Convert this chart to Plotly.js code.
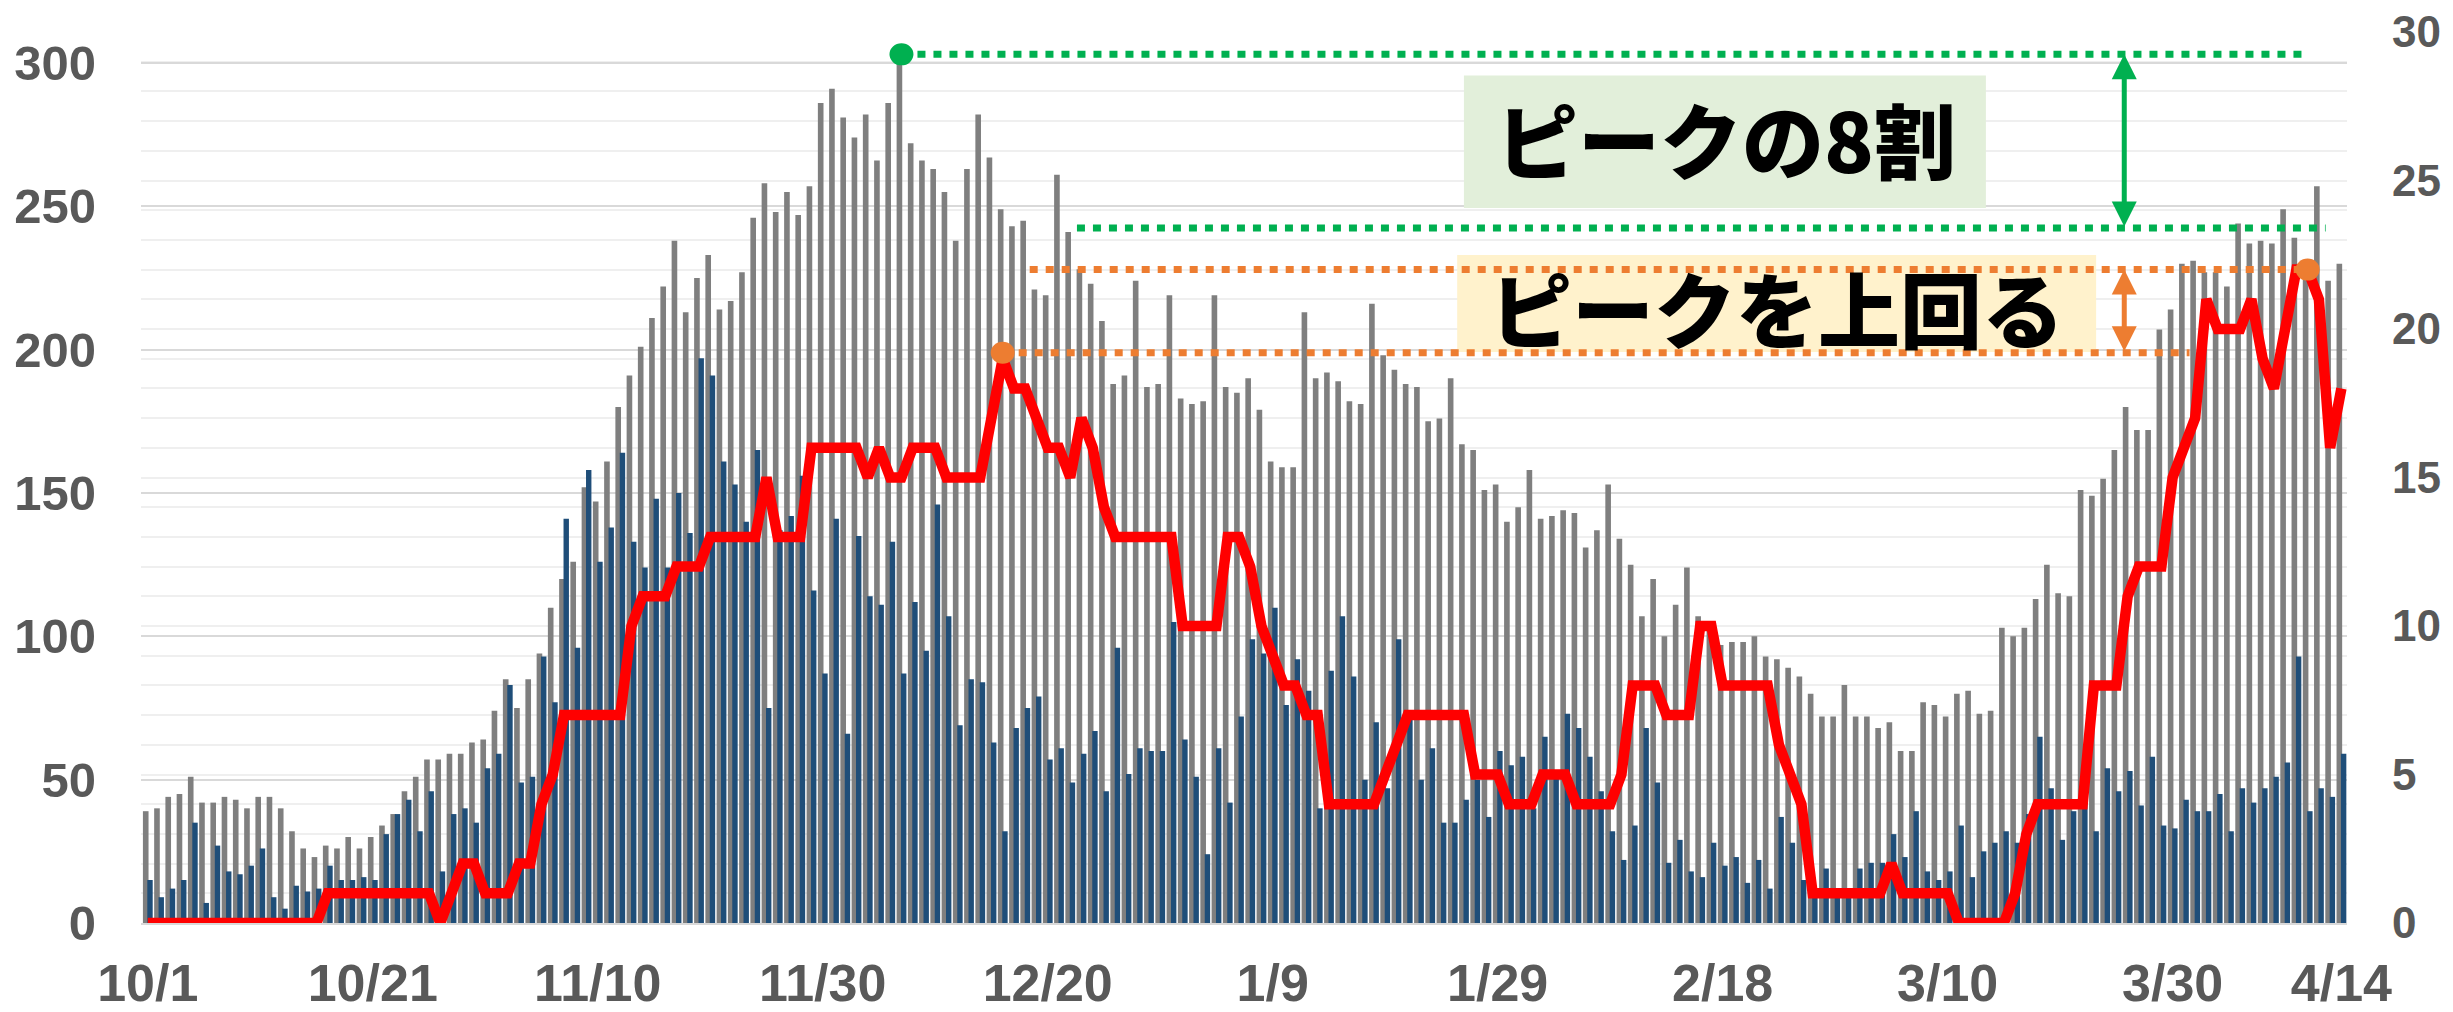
<!DOCTYPE html>
<html>
<head>
<meta charset="utf-8">
<script src="https://cdn.plot.ly/plotly-3.0.1.min.js"></script>
<style>
  html, body { margin: 0; padding: 0; background: #ffffff; }
  #chart { width: 2453px; height: 1012px; }
</style>
</head>
<body>
<div id="chart"></div>
<script>
// ---- data ----
const startYear = 2020, startMonth = 10, startDay = 1;   // 10/1 .. 4/14

const tickLabels = ['10/1', '10/21', '11/10', '11/30', '12/20', '1/9', '1/29', '2/18', '3/10', '3/30', '4/14'];

// gray bars (left axis)
const grayValues = [
  39, 40, 44, 45, 51, 42, 42, 44, 43, 40, 44, 44, 40, 32, 26, 23, 27, 26, 30, 26, 30, 34,
  38, 46, 51, 57, 57, 59, 59, 63, 64, 74, 85, 75, 85, 94, 110, 120, 126, 152, 147, 161, 180, 191,
  201, 211, 222, 238, 213, 225, 233, 214, 217, 227, 246, 258, 248, 255, 247, 257, 286, 291, 281, 274, 282, 266,
  286, 303, 272, 266, 263, 255, 238, 263, 282, 267, 249, 243, 245, 221, 219, 261, 241, 228, 223, 210, 188, 191,
  224, 187, 188, 219, 183, 181, 182, 219, 187, 185, 190, 179, 161, 159, 159, 213, 190, 192, 189, 182, 181,
  216, 198, 193, 188, 187, 175, 176, 190, 167, 165, 151, 153, 140, 145, 158, 141, 142, 144, 143, 131, 137, 153,
  134, 125, 107, 120, 100, 111, 124, 107, 102, 97, 98, 98, 100, 93, 92, 89, 86, 80, 72, 72, 83, 72,
  72, 68, 70, 60, 60, 77, 76, 72, 80, 81, 73, 74, 103, 100, 103, 113, 125, 115, 114, 151, 149, 155,
  165, 180, 172, 172, 207, 214, 230, 231, 227, 227, 222, 244, 237, 238, 237, 249, 239, 228, 257, 224, 230
];

// dark blue bars (left axis)
const blueValues = [
  15, 9, 12, 15, 35, 7, 27, 18, 17, 20, 26, 9, 5, 13, 11, 12, 20, 15, 15, 16, 15, 31,
  38, 43, 32, 46, 18, 38, 40, 35, 54, 59, 83, 49, 51, 93, 77, 141, 96, 158, 126, 138, 164, 133,
  124, 148, 124, 150, 136, 197, 191, 161, 153, 140, 165, 75, 137, 142, 156, 116, 87, 141, 66, 135, 114, 111,
  133, 87, 112, 95, 146, 107, 69, 85, 84, 63, 32, 68, 75, 79, 57, 61, 49, 59, 67, 46, 96, 52,
  61, 60, 60, 105, 64, 51, 24, 61, 42, 72, 99, 94, 110, 76, 92, 81, 40, 88, 107, 86, 50,
  70, 47, 99, 74, 50, 61, 35, 35, 43, 50, 37, 60, 55, 58, 40, 65, 52, 73, 68, 58, 46, 32,
  22, 34, 68, 49, 21, 29, 18, 16, 28, 20, 23, 14, 22, 12, 37, 28, 15, 10, 19, 10, 10, 19,
  21, 21, 31, 23, 39, 18, 15, 18, 34, 16, 25, 28, 32, 28, 38, 65, 47, 29, 39, 42, 32, 54,
  46, 53, 41, 58, 34, 33, 43, 39, 39, 45, 32, 47, 42, 47, 51, 56, 93, 39, 47, 44, 59
];

// red line (right axis)
const redValues = [
  0, 0, 0, 0, 0, 0, 0, 0, 0, 0, 0, 0, 0, 0, 0, 0, 1, 1, 1, 1, 1, 1,
  1, 1, 1, 1, 0, 1, 2, 2, 1, 1, 1, 2, 2, 4, 5, 7, 7, 7, 7, 7, 7, 10,
  11, 11, 11, 12, 12, 12, 13, 13, 13, 13, 13, 15, 13, 13, 13, 16, 16, 16, 16, 16, 15, 16,
  15, 15, 16, 16, 16, 15, 15, 15, 15, 17, 19, 18, 18, 17, 16, 16, 15, 17, 16, 14, 13, 13,
  13, 13, 13, 13, 10, 10, 10, 10, 13, 13, 12, 10, 9, 8, 8, 7, 7, 4, 4, 4, 4,
  4, 5, 6, 7, 7, 7, 7, 7, 7, 5, 5, 5, 4, 4, 4, 5, 5, 5, 4, 4, 4, 4,
  5, 8, 8, 8, 7, 7, 7, 10, 10, 8, 8, 8, 8, 8, 6, 5, 4, 1, 1, 1, 1, 1,
  1, 1, 2, 1, 1, 1, 1, 1, 0, 0, 0, 0, 0, 1, 3, 4, 4, 4, 4, 4, 8, 8,
  8, 11, 12, 12, 12, 15, 16, 17, 21, 20, 20, 20, 21, 19, 18, 20, 22, 22, 21, 16, 18
];

// annotation texts
const labelEighty = 'ピークの8割';
const labelAbove = 'ピークを上回る';
const peakRatio = 0.8;

// ---- build categories ----
const categories = grayValues.map((_, i) => {
  const d = new Date(startYear, startMonth - 1, startDay + i);
  return (d.getMonth() + 1) + '/' + d.getDate();
});

const peakValue = Math.max(...grayValues);
const peakIdx = grayValues.indexOf(peakValue);
const eightyLevel = peakValue * peakRatio;
const firstRedPeakIdx = 76;          // red peak in December
const firstRedPeakLevel = 19.2;
const secondRedIdx = 192;            // red peak in April
const secondRedLevel = redValues[secondRedIdx];

const tickFamily = 'Liberation Sans, Arial, sans-serif';
const jpFamily = 'Noto Sans CJK JP, Noto Sans, sans-serif';
const GREEN = '#00b050', ORANGE = '#ed7d31';

const traces = [
  {
    type: 'bar', x: categories, y: grayValues, yaxis: 'y',
    marker: { color: '#7f7f7f', line: { width: 0 } },
    width: 0.5, offset: -0.43, hoverinfo: 'skip'
  },
  {
    type: 'bar', x: categories, y: blueValues, yaxis: 'y',
    marker: { color: '#1f4e79', line: { width: 0 } },
    width: 0.48, offset: -0.04, hoverinfo: 'skip'
  },
  {
    type: 'scatter', mode: 'lines', x: categories, y: redValues, yaxis: 'y2',
    line: { color: '#ff0000', width: 10.5 }, hoverinfo: 'skip'
  }
];

const dotLine = (color) => ({ color: color, width: 7, dash: '8px,8px' });
const dot = (xa, ya, yref, color) => ({
  type: 'circle', xref: 'x', yref: yref, xsizemode: 'pixel', ysizemode: 'pixel',
  xanchor: xa, yanchor: ya, x0: -12, x1: 12, y0: -11, y1: 11,
  fillcolor: color, line: { width: 0 }, layer: 'above'
});

const shapes = [
  { type: 'rect', xref: 'x', yref: 'y', x0: 117.0, x1: 163.4, y0: 249.4, y1: 295.6,
    fillcolor: '#e2efda', line: { width: 0 }, layer: 'above' },
  { type: 'rect', xref: 'x', yref: 'y', x0: 116.4, x1: 173.2, y0: 199.2, y1: 233.0,
    fillcolor: '#fff2cc', line: { width: 0 }, layer: 'above' },
  { type: 'line', xref: 'x', yref: 'y', x0: peakIdx, x1: 191.8, y0: peakValue, y1: peakValue,
    line: dotLine(GREEN), layer: 'above' },
  { type: 'line', xref: 'x', yref: 'y', x0: 82.6, x1: 193.6, y0: eightyLevel, y1: eightyLevel,
    line: dotLine(GREEN), layer: 'above' },
  { type: 'line', xref: 'x', yref: 'y2', x0: 78.4, x1: secondRedIdx, y0: secondRedLevel, y1: secondRedLevel,
    line: dotLine(ORANGE), layer: 'above' },
  { type: 'line', xref: 'x', yref: 'y2', x0: firstRedPeakIdx, x1: 181.5, y0: firstRedPeakLevel, y1: firstRedPeakLevel,
    line: dotLine(ORANGE), layer: 'above' },
  dot(peakIdx, peakValue, 'y', GREEN),
  dot(firstRedPeakIdx, firstRedPeakLevel, 'y2', ORANGE),
  dot(secondRedIdx, secondRedLevel, 'y2', ORANGE)
];

const arrowX = 175.7;
const annotations = [
  { xref: 'x', yref: 'y', axref: 'x', ayref: 'y', x: arrowX, y: peakValue, ax: arrowX, ay: eightyLevel,
    text: '', showarrow: true, arrowhead: 2, startarrowhead: 2, arrowside: 'end+start',
    arrowsize: 1, startarrowsize: 1, arrowwidth: 5, arrowcolor: GREEN },
  { xref: 'x', yref: 'y2', axref: 'x', ayref: 'y2', x: arrowX, y: secondRedLevel, ax: arrowX, ay: firstRedPeakLevel,
    text: '', showarrow: true, arrowhead: 2, startarrowhead: 2, arrowside: 'end+start',
    arrowsize: 1, startarrowsize: 1, arrowwidth: 5, arrowcolor: ORANGE },
  { xref: 'x', yref: 'y', x: 140.3, y: 274, text: labelEighty, showarrow: false,
    xanchor: 'center', yanchor: 'middle',
    font: { family: jpFamily, size: 82, color: '#000000', weight: 900 } },
  { xref: 'x', yref: 'y', x: 144.8, y: 215, text: labelAbove, showarrow: false,
    xanchor: 'center', yanchor: 'middle',
    font: { family: jpFamily, size: 82, color: '#000000', weight: 900 } }
];

const tickFont = (size) => ({ family: tickFamily, size: size, color: '#595959', weight: 'bold' });

const layout = {
  width: 2453, height: 1012,
  margin: { l: 141, r: 106, t: 32, b: 89, pad: 0 },
  paper_bgcolor: '#ffffff', plot_bgcolor: '#ffffff',
  showlegend: false, barmode: 'overlay', hovermode: false,
  xaxis: {
    type: 'category', range: [-0.6, 195.5],
    tickmode: 'array', tickvals: tickLabels, ticktext: tickLabels,
    showgrid: false, zeroline: false, showline: true, linecolor: '#d9d9d9', linewidth: 2,
    ticks: '', tickfont: tickFont(52), ticklabelstandoff: 14
  },
  yaxis: {
    range: [0, 310.8], tickmode: 'linear', tick0: 0, dtick: 50,
    showgrid: true, gridcolor: '#d9d9d9', gridwidth: 2, zeroline: false, showline: false,
    ticks: '', tickfont: tickFont(49), ticklabelstandoff: 44
  },
  yaxis2: {
    overlaying: 'y', side: 'right', range: [0, 30], tickmode: 'linear', tick0: 0, dtick: 5,
    showgrid: true, gridcolor: '#efefef', gridwidth: 2, zeroline: false, showline: false,
    minor: { tick0: 0, dtick: 1, showgrid: true, gridcolor: '#efefef', gridwidth: 2 },
    ticks: '', tickfont: tickFont(44), ticklabelstandoff: 44
  },
  shapes: shapes,
  annotations: annotations
};

Plotly.newPlot('chart', traces, layout, { staticPlot: true, displayModeBar: false });
</script>
</body>
</html>
